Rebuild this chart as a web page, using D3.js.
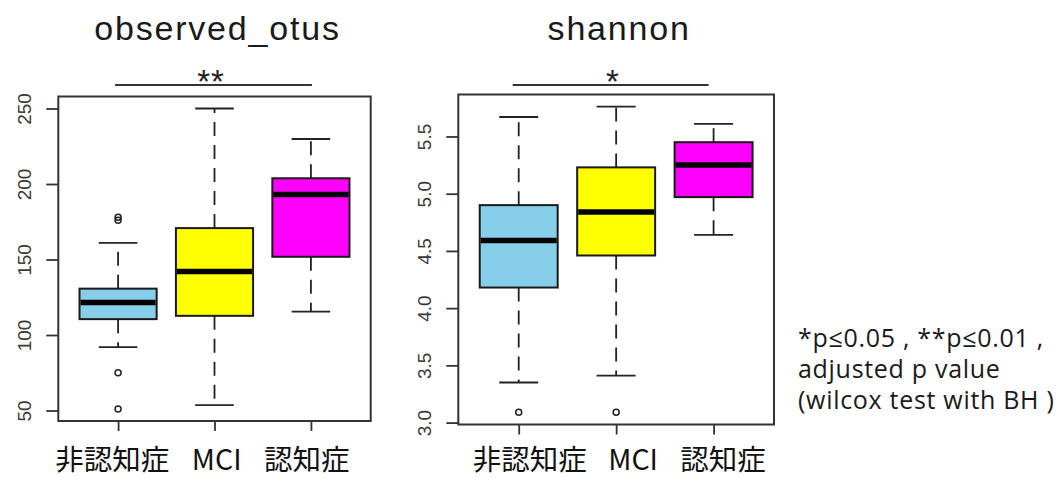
<!DOCTYPE html>
<html>
<head>
<meta charset="utf-8">
<script src="https://cdn.jsdelivr.net/npm/d3@7"></script>
<style>
  body { margin: 0; background: #fff; }
  svg { display: block; }
</style>
</head>
<body>
<div id="root"></div>
<script>
const W = 1061, H = 479;

// groups (x axis)
const categories = ["非認知症", "MCI", "認知症"];
const boxColors = ["#87ceeb", "#ffff00", "#ff00ff"];

// observed_otus
const otusLow = [92, 53.5, 115.5];
const otusQ1 = [110.5, 112.7, 151.8];
const otusMedian = [121.6, 142, 193];
const otusQ3 = [130.7, 170.8, 203.8];
const otusHigh = [161, 250, 229.8];
const otusOutliers = [[178, 176, 75, 51], [], []];
const otusTicks = [50, 100, 150, 200, 250];

// shannon
const shannonLow = [3.35, 3.41, 4.64];
const shannonQ1 = [4.18, 4.46, 4.97];
const shannonMedian = [4.59, 4.84, 5.25];
const shannonQ3 = [4.9, 5.23, 5.45];
const shannonHigh = [5.67, 5.76, 5.61];
const shannonOutliers = [[3.09], [3.09], []];
const shannonTicks = [3.0, 3.5, 4.0, 4.5, 5.0, 5.5];

const noteLines = ["*p≤0.05 , **p≤0.01 ,", "adjusted p value", "(wilcox test with BH )"];

const svg = d3.select("#root").append("svg")
    .attr("width", W)
    .attr("height", H);

const sansFont = "'Liberation Sans', Arial, Helvetica, sans-serif";
const cjkFont = "'Noto Sans CJK JP', 'Noto Sans CJK SC', sans-serif";

// layout of each panel
const panels = [
    {
        title: "observed_otus", stars: "**",
        low: otusLow, q1: otusQ1, med: otusMedian, q3: otusQ3, high: otusHigh,
        outliers: otusOutliers, ticks: otusTicks, fmt: d3.format("d"),
        left: 58.3, right: 370.7, top: 96.5, bottom: 421,
        labelDx: [-5.7, 2.2, -4.2], sigDx: [-3, 1], starX: 211
    },
    {
        title: "shannon", stars: "*",
        low: shannonLow, q1: shannonQ1, med: shannonMedian, q3: shannonQ3, high: shannonHigh,
        outliers: shannonOutliers, ticks: shannonTicks, fmt: d3.format(".1f"),
        left: 458.3, right: 774, top: 94.5, bottom: 424.5,
        labelDx: [11, 17, 9.5], sigDx: [-6, -5], starX: 613
    }
];

panels.forEach(p => {
    const g = svg.append("g");

    // R style range: data extent padded by 4%
    const allVals = p.low.concat(p.high, p.outliers.flat());
    const lo = d3.min(allVals), hi = d3.max(allVals);
    const pad = (hi - lo) * 0.04;
    const y = d3.scaleLinear().domain([lo - pad, hi + pad]).range([p.bottom, p.top]);
    const x = d3.scaleLinear().domain([0.38, 3.62]).range([p.left, p.right]);
    const boxW = x(1.8) - x(1);

    // title
    g.append("text")
        .attr("x", (p.left + p.right) / 2 + 3)
        .attr("y", 39.5)
        .attr("text-anchor", "middle")
        .attr("font-family", sansFont)
        .attr("font-size", 34)
        .attr("letter-spacing", 1.8)
        .attr("fill", "#1a1a1a")
        .text(p.title);

    // significance bar
    g.append("line")
        .attr("x1", x(1) + p.sigDx[0]).attr("x2", x(3) + p.sigDx[1])
        .attr("y1", 85).attr("y2", 85)
        .attr("stroke", "#333").attr("stroke-width", 2);
    g.append("text")
        .attr("x", p.starX)
        .attr("y", 93)
        .attr("text-anchor", "middle")
        .attr("font-family", sansFont)
        .attr("font-size", 33)
        .attr("letter-spacing", 1)
        .attr("fill", "#222")
        .text(p.stars);

    // y axis
    const yAxis = d3.axisLeft(y).tickValues(p.ticks).tickFormat(p.fmt).tickSize(12);
    const ya = g.append("g")
        .attr("transform", "translate(" + p.left + ",0)")
        .call(yAxis);
    ya.select(".domain").remove();
    ya.selectAll(".tick line").attr("stroke", "#333").attr("stroke-width", 1.8);
    ya.selectAll(".tick text")
        .attr("x", null).attr("dy", null)
        .attr("text-anchor", "middle")
        .attr("transform", "translate(-27,0) rotate(-90)")
        .attr("font-family", sansFont)
        .attr("font-size", 19)
        .attr("fill", "#3a3a3a");

    // x axis ticks
    const xa = g.append("g")
        .attr("transform", "translate(0," + p.bottom + ")")
        .call(d3.axisBottom(x).tickValues([1, 2, 3]).tickFormat("").tickSize(10));
    xa.select(".domain").remove();
    xa.selectAll(".tick line").attr("stroke", "#333").attr("stroke-width", 1.8);

    // group labels
    g.selectAll("text.cat")
        .data(categories)
        .enter()
        .append("text")
        .attr("class", "cat")
        .attr("x", (d, i) => x(i + 1) + p.labelDx[i])
        .attr("y", 470)
        .attr("text-anchor", "middle")
        .attr("font-family", cjkFont)
        .attr("font-size", 28.5)
        .attr("fill", "#111")
        .text(d => d);

    const idx = d3.range(categories.length);

    // whiskers (dashed)
    const wh = g.append("g").attr("stroke", "#222").attr("stroke-width", 1.8)
        .attr("stroke-dasharray", "14,9");
    wh.selectAll("line.up").data(idx).enter().append("line")
        .attr("x1", i => x(i + 1)).attr("x2", i => x(i + 1))
        .attr("y1", i => y(p.q3[i])).attr("y2", i => y(p.high[i]));
    wh.selectAll("line.dn").data(idx).enter().append("line")
        .attr("x1", i => x(i + 1)).attr("x2", i => x(i + 1))
        .attr("y1", i => y(p.q1[i])).attr("y2", i => y(p.low[i]));

    // staples
    const st = g.append("g").attr("stroke", "#222").attr("stroke-width", 1.8);
    [p.high, p.low].forEach(arr => {
        st.selectAll(null).data(idx).enter().append("line")
            .attr("x1", i => x(i + 1) - boxW / 4).attr("x2", i => x(i + 1) + boxW / 4)
            .attr("y1", i => y(arr[i])).attr("y2", i => y(arr[i]));
    });

    // boxes
    g.selectAll("rect.box").data(idx).enter().append("rect")
        .attr("class", "box")
        .attr("x", i => x(i + 1) - boxW / 2)
        .attr("width", boxW)
        .attr("y", i => y(p.q3[i]))
        .attr("height", i => y(p.q1[i]) - y(p.q3[i]))
        .attr("fill", i => boxColors[i])
        .attr("stroke", "#1a1a1a")
        .attr("stroke-width", 2);

    // medians
    g.selectAll("line.med").data(idx).enter().append("line")
        .attr("x1", i => x(i + 1) - boxW / 2 + 1).attr("x2", i => x(i + 1) + boxW / 2 - 1)
        .attr("y1", i => y(p.med[i])).attr("y2", i => y(p.med[i]))
        .attr("stroke", "#000").attr("stroke-width", 5.5);

    // outliers
    const pts = [];
    p.outliers.forEach((arr, i) => arr.forEach(v => pts.push({ i: i, v: v })));
    g.selectAll("circle.out").data(pts).enter().append("circle")
        .attr("cx", d => x(d.i + 1))
        .attr("cy", d => y(d.v))
        .attr("r", 3)
        .attr("fill", "none")
        .attr("stroke", "#222")
        .attr("stroke-width", 1.5);

    // frame
    g.append("rect")
        .attr("x", p.left).attr("y", p.top)
        .attr("width", p.right - p.left).attr("height", p.bottom - p.top)
        .attr("fill", "none")
        .attr("stroke", "#333").attr("stroke-width", 2);
});

// footnote
svg.append("g")
    .selectAll("text")
    .data(noteLines)
    .enter()
    .append("text")
    .attr("x", 798)
    .attr("y", (d, i) => 347 + i * 31)
    .attr("font-family", "'Open Sans', 'Noto Sans', sans-serif")
    .attr("font-size", 25)
    .attr("letter-spacing", 0.7)
    .attr("fill", "#1a1a1a")
    .text(d => d);
</script>
</body>
</html>
